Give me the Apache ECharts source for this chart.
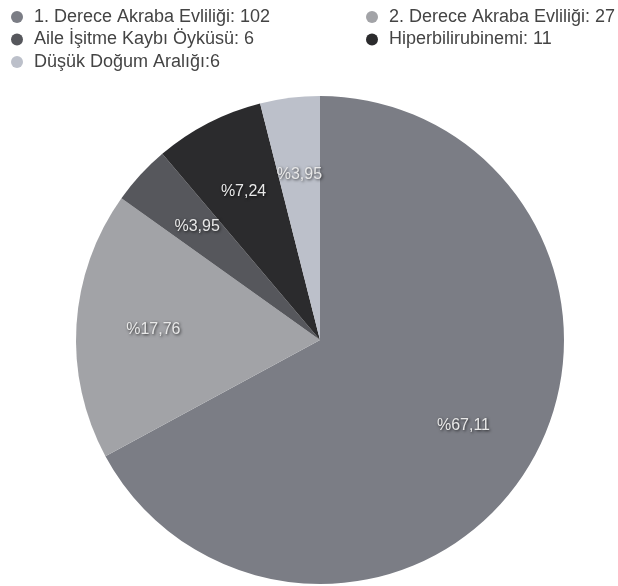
<!DOCTYPE html>
<html>
<head>
<meta charset="utf-8">
<script src="https://cdn.jsdelivr.net/npm/echarts@6/dist/echarts.min.js"></script>
<style>html,body{margin:0;padding:0;background:#fff;}#c{width:618px;height:586px;}</style>
</head>
<body>
<div id="c"></div>
<script>
var categories = ['1. Derece Akraba Evliliği', '2. Derece Akraba Evliliği', 'Aile İşitme Kaybı Öyküsü', 'Hiperbilirubinemi', 'Düşük Doğum Aralığı'];
var values = [102, 27, 6, 11, 6];
var legendLabels = ['1. Derece Akraba Evliliği: 102', '2. Derece Akraba Evliliği: 27', 'Aile İşitme Kaybı Öyküsü: 6', 'Hiperbilirubinemi: 11', 'Düşük Doğum Aralığı:6'];
var colors = ['#7b7d85', '#a2a3a7', '#56575c', '#2b2b2d', '#bcc0ca'];

var total = values.reduce(function (a, b) { return a + b; }, 0);
var chart = echarts.init(document.getElementById('c'), null, {renderer: 'canvas'});
var data = categories.map(function (c, i) { return {name: c, value: values[i], itemStyle: {color: colors[i]}}; });
var labelData = categories.map(function (c, i) { return {name: c, value: values[i]}; });
var legendMap = {};
categories.forEach(function (c, i) { legendMap[c] = legendLabels[i]; });
var legendCommon = {
  orient: 'vertical', icon: 'circle', itemWidth: 12, itemHeight: 12, itemGap: 4.5, padding: 0,
  textStyle: {fontFamily: 'Liberation Sans, Arial, sans-serif', fontSize: 18, lineHeight: 18, color: '#444', padding: [0, 0, 0, 6]},
  formatter: function (n) { return legendMap[n]; }
};
chart.setOption({
  animation: false,
  legend: [
    Object.assign({left: 11, top: 8, data: [categories[0], categories[2], categories[4]]}, legendCommon),
    Object.assign({left: 366, top: 8, data: [categories[1], categories[3]]}, legendCommon)
  ],
  series: [
    {
      type: 'pie', center: [320, 340], radius: [0, 244], startAngle: 90, clockwise: true,
      label: {show: false}, labelLine: {show: false}, silent: true,
      itemStyle: {borderWidth: 0},
      data: data
    },
    {
      type: 'pie', center: [320, 340], radius: [84, 244], startAngle: 90, clockwise: true,
      silent: true, legendHoverLink: false,
      itemStyle: {color: 'rgba(0,0,0,0)', borderWidth: 0},
      label: {
        show: true, position: 'inside', color: '#e8e8e8', fontSize: 16,
        fontFamily: 'Liberation Sans, Arial, sans-serif',
        textShadowColor: 'rgba(0,0,0,0.75)', textShadowBlur: 3, textShadowOffsetX: 1, textShadowOffsetY: 1,
        formatter: function (p) { return '%' + (p.value / total * 100).toFixed(2).replace('.', ','); }
      },
      labelLine: {show: false},
      data: labelData
    }
  ]
});
</script>
</body>
</html>
